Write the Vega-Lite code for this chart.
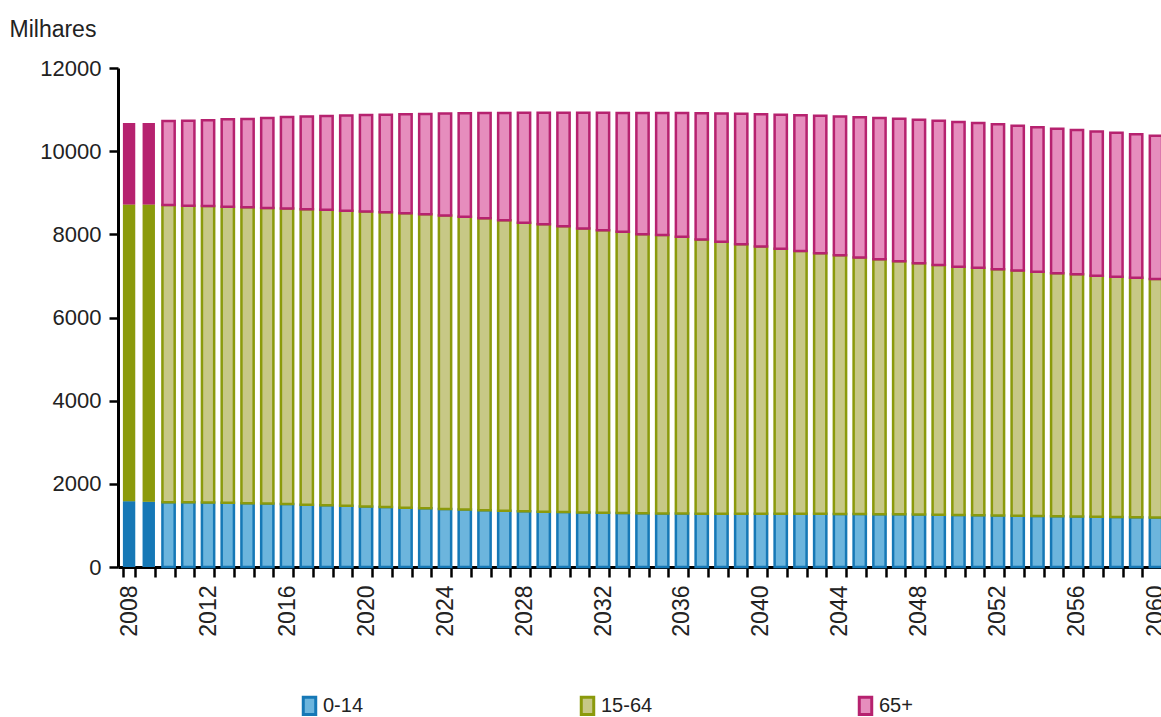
{
  "$schema": "https://vega.github.io/schema/vega-lite/v6.json",
  "autosize": {"type": "none"},
  "padding": {"left": 118, "top": 68, "right": 0, "bottom": 150},
  "width": 1043,
  "height": 499,
  "background": "white",
  "config": {
    "view": {"stroke": null},
    "font": "Liberation Sans",
    "axis": {
      "grid": false,
      "domainColor": "#000000",
      "domainWidth": 3,
      "tickColor": "#000000",
      "tickWidth": 2.5,
      "labelColor": "#222222",
      "labelFont": "Liberation Sans",
      "labelFontSize": 22,
      "titleFont": "Liberation Sans"
    }
  },
  "data": {"values": [
    {"ano":2008,"grupo":"0-14","valor":1580},{"ano":2008,"grupo":"15-64","valor":7140},{"ano":2008,"grupo":"65+","valor":1955},
    {"ano":2009,"grupo":"0-14","valor":1570},{"ano":2009,"grupo":"15-64","valor":7145},{"ano":2009,"grupo":"65+","valor":1965},
    {"ano":2010,"grupo":"0-14","valor":1560},{"ano":2010,"grupo":"15-64","valor":7145},{"ano":2010,"grupo":"65+","valor":2023},
    {"ano":2011,"grupo":"0-14","valor":1555},{"ano":2011,"grupo":"15-64","valor":7135},{"ano":2011,"grupo":"65+","valor":2040},
    {"ano":2012,"grupo":"0-14","valor":1550},{"ano":2012,"grupo":"15-64","valor":7130},{"ano":2012,"grupo":"65+","valor":2065},
    {"ano":2013,"grupo":"0-14","valor":1545},{"ano":2013,"grupo":"15-64","valor":7120},{"ano":2013,"grupo":"65+","valor":2100},
    {"ano":2014,"grupo":"0-14","valor":1535},{"ano":2014,"grupo":"15-64","valor":7115},{"ano":2014,"grupo":"65+","valor":2122},
    {"ano":2015,"grupo":"0-14","valor":1525},{"ano":2015,"grupo":"15-64","valor":7110},{"ano":2015,"grupo":"65+","valor":2165},
    {"ano":2016,"grupo":"0-14","valor":1515},{"ano":2016,"grupo":"15-64","valor":7107},{"ano":2016,"grupo":"65+","valor":2198},
    {"ano":2017,"grupo":"0-14","valor":1500},{"ano":2017,"grupo":"15-64","valor":7105},{"ano":2017,"grupo":"65+","valor":2227},
    {"ano":2018,"grupo":"0-14","valor":1485},{"ano":2018,"grupo":"15-64","valor":7105},{"ano":2018,"grupo":"65+","valor":2255},
    {"ano":2019,"grupo":"0-14","valor":1470},{"ano":2019,"grupo":"15-64","valor":7100},{"ano":2019,"grupo":"65+","valor":2288},
    {"ano":2020,"grupo":"0-14","valor":1455},{"ano":2020,"grupo":"15-64","valor":7095},{"ano":2020,"grupo":"65+","valor":2318},
    {"ano":2021,"grupo":"0-14","valor":1440},{"ano":2021,"grupo":"15-64","valor":7090},{"ano":2021,"grupo":"65+","valor":2348},
    {"ano":2022,"grupo":"0-14","valor":1425},{"ano":2022,"grupo":"15-64","valor":7080},{"ano":2022,"grupo":"65+","valor":2383},
    {"ano":2023,"grupo":"0-14","valor":1410},{"ano":2023,"grupo":"15-64","valor":7070},{"ano":2023,"grupo":"65+","valor":2416},
    {"ano":2024,"grupo":"0-14","valor":1395},{"ano":2024,"grupo":"15-64","valor":7060},{"ano":2024,"grupo":"65+","valor":2448},
    {"ano":2025,"grupo":"0-14","valor":1380},{"ano":2025,"grupo":"15-64","valor":7045},{"ano":2025,"grupo":"65+","valor":2485},
    {"ano":2026,"grupo":"0-14","valor":1365},{"ano":2026,"grupo":"15-64","valor":7020},{"ano":2026,"grupo":"65+","valor":2531},
    {"ano":2027,"grupo":"0-14","valor":1350},{"ano":2027,"grupo":"15-64","valor":6991},{"ano":2027,"grupo":"65+","valor":2579},
    {"ano":2028,"grupo":"0-14","valor":1340},{"ano":2028,"grupo":"15-64","valor":6937},{"ano":2028,"grupo":"65+","valor":2645},
    {"ano":2029,"grupo":"0-14","valor":1330},{"ano":2029,"grupo":"15-64","valor":6915},{"ano":2029,"grupo":"65+","valor":2678},
    {"ano":2030,"grupo":"0-14","valor":1320},{"ano":2030,"grupo":"15-64","valor":6877},{"ano":2030,"grupo":"65+","valor":2726},
    {"ano":2031,"grupo":"0-14","valor":1312},{"ano":2031,"grupo":"15-64","valor":6830},{"ano":2031,"grupo":"65+","valor":2780},
    {"ano":2032,"grupo":"0-14","valor":1305},{"ano":2032,"grupo":"15-64","valor":6796},{"ano":2032,"grupo":"65+","valor":2820},
    {"ano":2033,"grupo":"0-14","valor":1298},{"ano":2033,"grupo":"15-64","valor":6762},{"ano":2033,"grupo":"65+","valor":2860},
    {"ano":2034,"grupo":"0-14","valor":1292},{"ano":2034,"grupo":"15-64","valor":6713},{"ano":2034,"grupo":"65+","valor":2914},
    {"ano":2035,"grupo":"0-14","valor":1288},{"ano":2035,"grupo":"15-64","valor":6693},{"ano":2035,"grupo":"65+","valor":2937},
    {"ano":2036,"grupo":"0-14","valor":1285},{"ano":2036,"grupo":"15-64","valor":6655},{"ano":2036,"grupo":"65+","valor":2976},
    {"ano":2037,"grupo":"0-14","valor":1283},{"ano":2037,"grupo":"15-64","valor":6594},{"ano":2037,"grupo":"65+","valor":3036},
    {"ano":2038,"grupo":"0-14","valor":1282},{"ano":2038,"grupo":"15-64","valor":6538},{"ano":2038,"grupo":"65+","valor":3088},
    {"ano":2039,"grupo":"0-14","valor":1281},{"ano":2039,"grupo":"15-64","valor":6483},{"ano":2039,"grupo":"65+","valor":3134},
    {"ano":2040,"grupo":"0-14","valor":1280},{"ano":2040,"grupo":"15-64","valor":6430},{"ano":2040,"grupo":"65+","valor":3178},
    {"ano":2041,"grupo":"0-14","valor":1280},{"ano":2041,"grupo":"15-64","valor":6375},{"ano":2041,"grupo":"65+","valor":3221},
    {"ano":2042,"grupo":"0-14","valor":1279},{"ano":2042,"grupo":"15-64","valor":6321},{"ano":2042,"grupo":"65+","valor":3264},
    {"ano":2043,"grupo":"0-14","valor":1278},{"ano":2043,"grupo":"15-64","valor":6267},{"ano":2043,"grupo":"65+","valor":3305},
    {"ano":2044,"grupo":"0-14","valor":1276},{"ano":2044,"grupo":"15-64","valor":6219},{"ano":2044,"grupo":"65+","valor":3340},
    {"ano":2045,"grupo":"0-14","valor":1273},{"ano":2045,"grupo":"15-64","valor":6172},{"ano":2045,"grupo":"65+","valor":3373},
    {"ano":2046,"grupo":"0-14","valor":1270},{"ano":2046,"grupo":"15-64","valor":6130},{"ano":2046,"grupo":"65+","valor":3400},
    {"ano":2047,"grupo":"0-14","valor":1266},{"ano":2047,"grupo":"15-64","valor":6084},{"ano":2047,"grupo":"65+","valor":3430},
    {"ano":2048,"grupo":"0-14","valor":1262},{"ano":2048,"grupo":"15-64","valor":6043},{"ano":2048,"grupo":"65+","valor":3453},
    {"ano":2049,"grupo":"0-14","valor":1256},{"ano":2049,"grupo":"15-64","valor":6004},{"ano":2049,"grupo":"65+","valor":3472},
    {"ano":2050,"grupo":"0-14","valor":1250},{"ano":2050,"grupo":"15-64","valor":5970},{"ano":2050,"grupo":"65+","valor":3484},
    {"ano":2051,"grupo":"0-14","valor":1245},{"ano":2051,"grupo":"15-64","valor":5950},{"ano":2051,"grupo":"65+","valor":3485},
    {"ano":2052,"grupo":"0-14","valor":1240},{"ano":2052,"grupo":"15-64","valor":5923},{"ano":2052,"grupo":"65+","valor":3486},
    {"ano":2053,"grupo":"0-14","valor":1234},{"ano":2053,"grupo":"15-64","valor":5898},{"ano":2053,"grupo":"65+","valor":3478},
    {"ano":2054,"grupo":"0-14","valor":1228},{"ano":2054,"grupo":"15-64","valor":5871},{"ano":2054,"grupo":"65+","valor":3476},
    {"ano":2055,"grupo":"0-14","valor":1220},{"ano":2055,"grupo":"15-64","valor":5847},{"ano":2055,"grupo":"65+","valor":3473},
    {"ano":2056,"grupo":"0-14","valor":1212},{"ano":2056,"grupo":"15-64","valor":5831},{"ano":2056,"grupo":"65+","valor":3467},
    {"ano":2057,"grupo":"0-14","valor":1206},{"ano":2057,"grupo":"15-64","valor":5797},{"ano":2057,"grupo":"65+","valor":3467},
    {"ano":2058,"grupo":"0-14","valor":1200},{"ano":2058,"grupo":"15-64","valor":5778},{"ano":2058,"grupo":"65+","valor":3462},
    {"ano":2059,"grupo":"0-14","valor":1195},{"ano":2059,"grupo":"15-64","valor":5759},{"ano":2059,"grupo":"65+","valor":3454},
    {"ano":2060,"grupo":"0-14","valor":1190},{"ano":2060,"grupo":"15-64","valor":5733},{"ano":2060,"grupo":"65+","valor":3447}
  ]},
  "encoding": {
    "x": {
      "field": "ano",
      "type": "ordinal",
      "sort": "ascending",
      "scale": {"range": [0, 1049], "paddingInner": 0.38, "paddingOuter": 0.25},
      "axis": {
        "title": null,
        "tickBand": "extent",
        "tickSize": 10,
        "labelAngle": 270,
        "labelPadding": 8,
        "labelFontSize": 23,
        "labelExpr": "(datum.value - 2008) % 4 == 0 ? datum.label : ''"
      }
    },
    "y": {
      "field": "valor",
      "type": "quantitative",
      "stack": "zero",
      "scale": {"domain": [0, 12000], "nice": false},
      "axis": {
        "title": "Milhares",
        "titleAngle": 0,
        "titleAlign": "left",
        "titleBaseline": "alphabetic",
        "titleX": -109,
        "titleY": -32,
        "titleFontSize": 23,
        "titleFontWeight": "normal",
        "titleColor": "#222222",
        "format": "d",
        "values": [0, 2000, 4000, 6000, 8000, 10000, 12000],
        "tickSize": 9,
        "labelPadding": 8
      }
    },
    "order": {"field": "grupo", "type": "nominal", "sort": "ascending"}
  },
  "layer": [
    {
      "mark": {"type": "bar"},
      "encoding": {
        "fill": {
          "field": "grupo",
          "type": "nominal",
          "scale": {"domain": ["0-14", "15-64", "65+"], "range": ["#6cb5dd", "#c7c886", "#e68dbd"]},
          "legend": {
            "title": null,
            "orient": "none",
            "direction": "horizontal",
            "columns": 3,
            "gridAlign": "all",
            "legendX": 181,
            "legendY": 627,
            "columnPadding": 200,
            "symbolType": "M-0.72,-1H0.72V1H-0.72Z",
            "symbolSize": 300,
            "symbolStrokeWidth": 3,
            "symbolOpacity": 1,
            "labelFontSize": 20,
            "labelColor": "#222222",
            "labelOffset": 3,
            "labelFont": "Liberation Sans",
            "encode": {"symbols": {"update": {
              "strokeWidth": {"value": 3},
              "stroke": {"signal": "datum.value == '0-14' ? '#1678b6' : datum.value == '15-64' ? '#8b9a0c' : '#b6226f'"}
            }}}
          }
        },
        "stroke": {
          "field": "grupo",
          "type": "nominal",
          "scale": {"domain": ["0-14", "15-64", "65+"], "range": ["#1678b6", "#8b9a0c", "#b6226f"]},
          "legend": null
        },
        "strokeWidth": {"condition": {"test": "datum.ano < 2010", "value": 0}, "value": 2.5}
      }
    },
    {
      "transform": [{"filter": "datum.ano < 2010"}],
      "mark": {"type": "bar"},
      "encoding": {
        "fill": {
          "field": "grupo",
          "type": "nominal",
          "scale": {"domain": ["0-14", "15-64", "65+"], "range": ["#1678b6", "#8b9a0c", "#b6226f"]},
          "legend": null
        }
      }
    }
  ],
  "resolve": {"scale": {"fill": "independent"}}
}
